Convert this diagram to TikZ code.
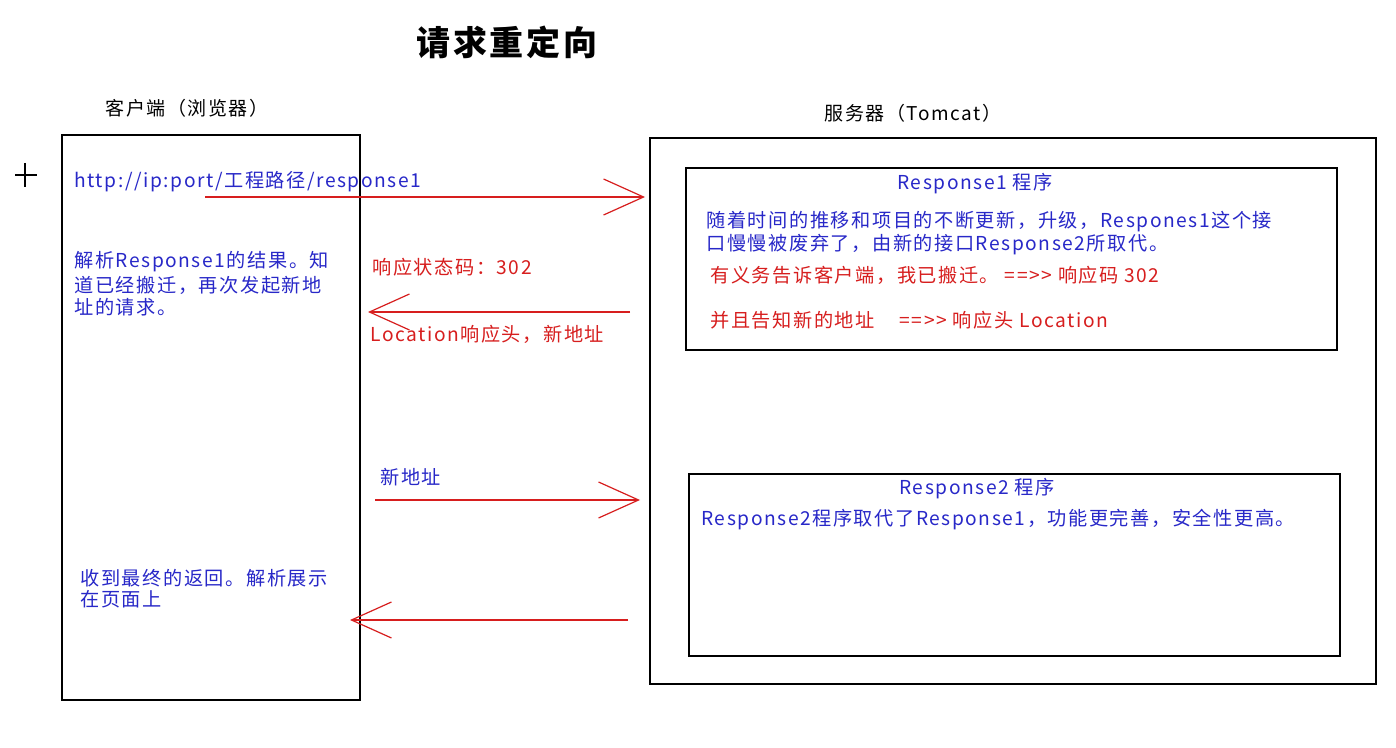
\documentclass[tikz,border=0pt]{standalone}
\usepackage{fontspec}
\setmainfont{Noto Sans CJK SC}[LetterSpace=8]
\usetikzlibrary{arrows.meta}
\definecolor{tblue}{RGB}{40,40,200}
\definecolor{tred}{RGB}{215,30,30}
\begin{document}
\begin{tikzpicture}[x=0.5pt,y=-0.5pt,
  box/.style={draw=black,line width=0.6pt},
  tx/.style={anchor=west,inner sep=0pt,font=\fontsize{9.6pt}{11pt}\selectfont},
  bt/.style={tx,text=tblue},
  rt/.style={tx,text=tred},
  arr/.style={draw=tred,line width=0.6pt,-{Straight Barb[length=20pt,width=18pt,line width=0.6pt]}}]
\useasboundingbox[fill=white] (0,0) rectangle (1396,748);
\node[font=\fontsize{17pt}{19pt}\selectfont\bfseries] (title) at (507,42) {请求重定向};
\node[font=\fontsize{9.5pt}{11pt}\selectfont] (cl) at (187,108) {客户端（浏览器）};
\node[font=\fontsize{9.5pt}{11pt}\selectfont] (sl) at (913,113) {服务器（Tomcat）};
\draw[box] (62,135) rectangle (360,700);
\draw[box] (650,138) rectangle (1376,684);
\draw[box] (686,168) rectangle (1337,350);
\draw[box] (689,474) rectangle (1340,656);
\draw[line width=0.6pt] (15,175) -- (37,175) (25,163) -- (25,187);
\node[bt] (u) at (74,182) {http://ip:port/工程路径/response1};
\node[bt] (a1) at (74,262) {解析Response1的结果。知};
\node[bt] (a2) at (74,285) {道已经搬迁，再次发起新地};
\node[bt] (a3) at (74,307) {址的请求。};
\node[rt] (r1) at (372,267) {响应状态码：302};
\node[rt] (r2) at (370,334) {Location响应头，新地址};
\node[bt] (na) at (380,477) {新地址};
\node[bt] (f1) at (80,578) {收到最终的返回。解析展示};
\node[bt] (f2) at (80,599) {在页面上};
\node[bt,anchor=center] (p1) at (975,184) {Response1 程序};
\node[bt] (b1) at (706,222) {随着时间的推移和项目的不断更新，升级，Respones1这个接};
\node[bt] (b2) at (706,245) {口慢慢被废弃了，由新的接口Response2所取代。};
\node[rt] (b3) at (710,275) {有义务告诉客户端，我已搬迁。 ==>{}> 响应码 302};
\node[rt] (b4) at (710,320) {并且告知新的地址\quad\ ==>{}> 响应头 Location};
\node[bt,anchor=center] (p2) at (977,489) {Response2 程序};
\node[bt] (c1) at (701,520) {Response2程序取代了Response1，功能更完善，安全性更高。};
\coordinate (s1) at (205,197); \coordinate (e1) at (645,197);
\coordinate (s2) at (630,312); \coordinate (e2) at (368,312);
\coordinate (s3) at (375,500); \coordinate (e3) at (640,500);
\coordinate (s4) at (628,620); \coordinate (e4) at (350,620);
\draw[arr] (s1) -- (e1);
\draw[arr] (s2) -- (e2);
\draw[arr] (s3) -- (e3);
\draw[arr] (s4) -- (e4);
\end{tikzpicture}
\end{document}
